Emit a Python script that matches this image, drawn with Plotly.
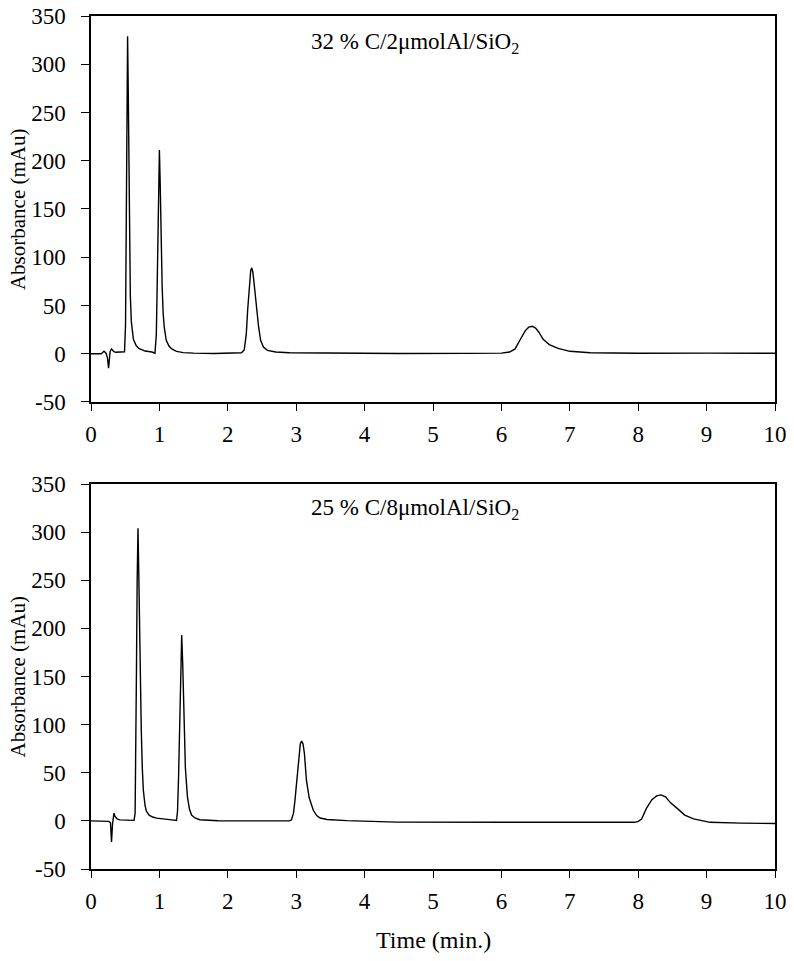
import plotly.graph_objects as go
from plotly.subplots import make_subplots

# chromatogram 1: 32 % C/2umolAl/SiO2
t_top = [0.00, 0.15, 0.19, 0.22, 0.24, 0.257, 0.27, 0.28, 0.30, 0.33, 0.36, 0.45, 0.49,
         0.505, 0.515, 0.525, 0.535, 0.545, 0.556, 0.565, 0.575, 0.59, 0.62, 0.66, 0.70,
         0.79, 0.85, 0.89, 0.935, 0.955, 0.965, 0.975, 0.99, 1.0, 1.012, 1.025, 1.04,
         1.055, 1.07, 1.10, 1.14, 1.18, 1.25, 1.35, 1.5, 1.8, 2.1, 2.2, 2.24, 2.27, 2.29,
         2.32, 2.335, 2.35, 2.365, 2.38, 2.42, 2.45, 2.48, 2.52, 2.58, 2.7, 2.9, 3.5, 4.5,
         5.5, 6.0, 6.12, 6.2, 6.27, 6.35, 6.40, 6.45, 6.5, 6.55, 6.61, 6.7, 6.83, 7.0,
         7.3, 8.0, 9.0, 10.0]
a_top = [0, 0, 2.5, 0.5, -4, -15, -5, 2.5, 5, 2.5, 1.5, 1.5, 2,
         30, 120, 250, 329, 270, 190, 120, 60, 33, 15, 8.5, 5.5,
         2.8, 2.5, 1.8, 0.5, 20, 60, 115, 185, 211, 175, 120, 70,
         42, 28, 14, 8, 5, 2.5, 1.2, 0.6, 0.3, 0.3, 1, 4, 20, 45,
         78, 86, 89, 85, 76, 45, 28, 14, 7, 3.5, 1.8, 1, 0.5, 0.3,
         0.4, 0.6, 1.8, 5, 14, 24, 27.5, 28.5, 26.5, 22, 15, 9.5, 5.5, 2.5,
         1, 0.5, 0.6, 0.5]

# chromatogram 2: 25 % C/8umolAl/SiO2
t_bot = [0.00, 0.20, 0.26, 0.285, 0.30, 0.315, 0.325, 0.336, 0.35, 0.38, 0.42, 0.55, 0.63,
         0.645, 0.655, 0.665, 0.675, 0.687, 0.70, 0.71, 0.72, 0.735, 0.75, 0.765, 0.79,
         0.81, 0.85, 0.90, 0.96, 1.05, 1.18, 1.25, 1.265, 1.28, 1.295, 1.31, 1.326, 1.34,
         1.36, 1.38, 1.41, 1.44, 1.47, 1.52, 1.59, 1.75, 1.86, 2.3, 2.9, 2.93, 2.96, 2.98,
         3.007, 3.04, 3.06, 3.08, 3.10, 3.12, 3.15, 3.19, 3.25, 3.3, 3.35, 3.45, 3.74, 4.47,
         5.5, 6.5, 7.5, 7.95, 8.0, 8.05, 8.12, 8.2, 8.27, 8.33, 8.40, 8.47, 8.57, 8.68,
         8.81, 8.95, 9.05, 9.5, 10.0]
a_bot = [0, 0, -0.5, -2, -22, -3, 5, 8, 5, 2, 1, 0.5, 0.5,
         8, 60, 160, 250, 304, 250, 200, 150, 95, 55, 32, 16,
         10, 6, 4, 2.8, 1.8, 1, 0.5, 10, 45, 95, 160, 193, 165,
         96, 55, 25, 12, 6, 3, 1.2, 0.5, 0.2, 0, 0, 1, 8, 20,
         42, 72, 80, 83, 80, 70, 42, 24, 11, 5.5, 3, 1.5, 0.3, -1.3,
         -1.5, -1.8, -1.8, -1.5, -0.5, 2, 13, 22, 26, 27, 25, 19, 13, 6,
         2, -0.5, -1.5, -2.3, -2.8]

labels = ["32 % C/2μmolAl/SiO<sub>2</sub>", "25 % C/8μmolAl/SiO<sub>2</sub>"]
y_ticks = [-50, 0, 50, 100, 150, 200, 250, 300, 350]
y_ticktext = ["-50", "0", "50", "100", "150", "200", "250", "300", "350"]

serif = "Liberation Serif, Times New Roman, serif"

fig = make_subplots(rows=2, cols=1)
fig.add_trace(go.Scatter(x=t_top, y=a_top, mode="lines",
                         line=dict(color="black", width=1.4)), row=1, col=1)
fig.add_trace(go.Scatter(x=t_bot, y=a_bot, mode="lines",
                         line=dict(color="black", width=1.4)), row=2, col=1)

domains = {1: [0.5475, 1.0], 2: [0.0, 0.4513]}
for r in (1, 2):
    fig.update_xaxes(range=[0, 10], dtick=1, showgrid=False, zeroline=False,
                     showline=True, linecolor="black", linewidth=1.5, mirror=True,
                     ticks="outside", ticklen=7, tickwidth=1, tickcolor="black",
                     ticklabelstandoff=4, automargin=False, ticklabeloverflow="allow",
                     tickfont=dict(family=serif, size=23, color="black"),
                     row=r, col=1)
    fig.update_yaxes(range=[-50, 350], tickvals=y_ticks, ticktext=y_ticktext,
                     showgrid=False, zeroline=False, domain=domains[r],
                     showline=True, linecolor="black", linewidth=1.5, mirror=True,
                     ticks="outside", ticklen=8, tickwidth=1, tickcolor="black",
                     ticklabelstandoff=11, automargin=False, ticklabeloverflow="allow",
                     tickfont=dict(family=serif, size=23, color="black"),
                     row=r, col=1)

# axis titles
for yc in (0.7737, 0.2257):
    fig.add_annotation(x=-0.1067, y=yc, xref="paper", yref="paper", text="Absorbance (mAu)",
                       textangle=-90, showarrow=False, xanchor="center", yanchor="middle",
                       font=dict(family=serif, size=21, color="black"))
fig.add_annotation(x=0.5, y=-0.0832, xref="paper", yref="paper", text="Time (min.)",
                   showarrow=False, xanchor="center", yanchor="middle",
                   font=dict(family=serif, size=24, color="black"))

fig.add_annotation(x=4.74, y=322, xref="x", yref="y", text=labels[0], showarrow=False,
                   font=dict(family=serif, size=23, color="black"))
fig.add_annotation(x=4.74, y=324, xref="x2", yref="y2", text=labels[1], showarrow=False,
                   font=dict(family=serif, size=23, color="black"))

# page body adds an 8px offset, so margins are shifted by that much
fig.update_layout(width=794, height=961, showlegend=False,
                  plot_bgcolor="white", paper_bgcolor="white",
                  margin=dict(l=83, r=27, t=8, b=100))

fig.write_html("out.html")
